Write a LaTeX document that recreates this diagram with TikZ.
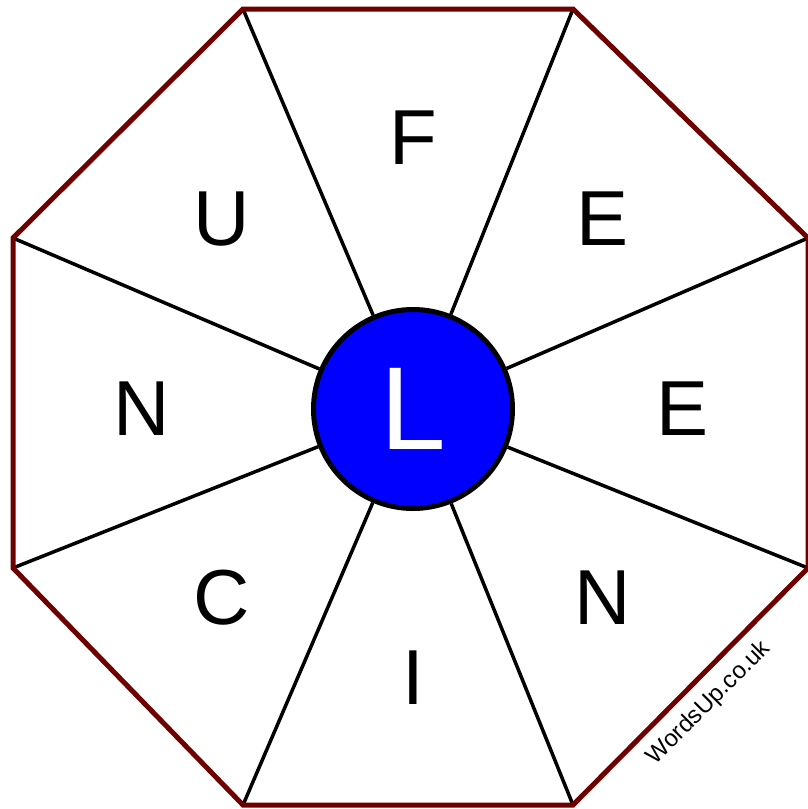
\documentclass[tikz,border=0pt]{standalone}
\usepackage{fontspec}
\setmainfont{Liberation Sans}
\definecolor{octred}{RGB}{110,0,0}
\definecolor{hubblue}{RGB}{0,0,255}
\begin{document}
\begin{tikzpicture}[x=1pt,y=-1pt,
  letter/.style={font=\fontsize{78}{78}\selectfont, inner sep=0pt},
  spoke/.style={draw=black, line width=3.5pt},
  rim/.style={draw=octred, line width=5pt, line join=miter},
  hub/.style={circle, fill=hubblue, draw=black, line width=5pt, minimum size=199pt, inner sep=0pt, text=white, font=\fontsize{118}{118}\selectfont}]
\useasboundingbox (0,0) rectangle (808,809);
\coordinate (v1) at (243,9);
\coordinate (v2) at (573,9);
\coordinate (v3) at (808,238);
\coordinate (v4) at (808,568);
\coordinate (v5) at (573,805);
\coordinate (v6) at (243,805);
\coordinate (v7) at (13,568);
\coordinate (v8) at (13,238);
\node[hub] (c) at (413,409) {L};
\foreach \v in {v1,v2,v3,v4,v5,v6,v7,v8} \draw[spoke] (\v) -- (c);
\draw[rim] (v1) -- (v2) -- (v3) -- (v4) -- (v5) -- (v6) -- (v7) -- (v8) -- cycle;
\node[letter] (lF) at (413,138) {F};
\node[letter] (lE1) at (603,219) {E};
\node[letter] (lE2) at (683,409) {E};
\node[letter] (lN1) at (603,598) {N};
\node[letter] (lI) at (413,678) {I};
\node[letter] (lC) at (222,598) {C};
\node[letter] (lN2) at (142,409) {N};
\node[letter] (lU) at (222,219) {U};
\node[rotate=45, font=\fontsize{24}{24}\selectfont, inner sep=0pt] (wm) at (709,703) {WordsUp.co.uk};
\end{tikzpicture}
\end{document}
